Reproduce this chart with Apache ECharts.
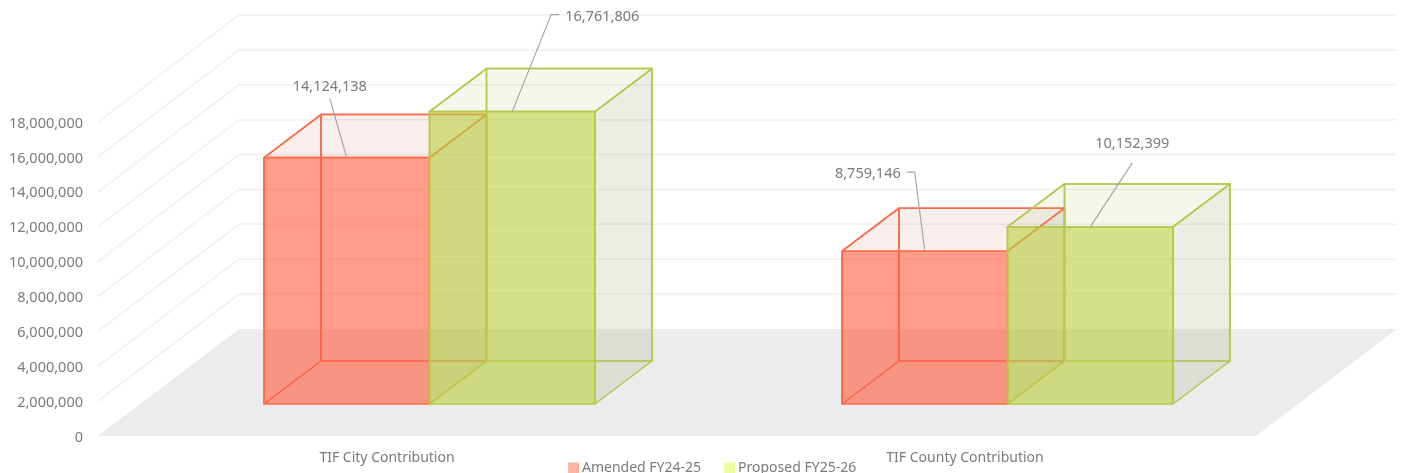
<!DOCTYPE html>
<html><head><meta charset="utf-8">
<style>html,body{margin:0;padding:0;background:#fff;overflow:hidden}#c{width:1402px;height:473px;filter:blur(0.4px)}</style>
<script src="https://cdn.jsdelivr.net/npm/echarts@6/dist/echarts.min.js"></script>
</head><body><div id="c"></div>
<script>
const categories = ['TIF City Contribution', 'TIF County Contribution'];
const seriesNames = ['Amended FY24-25', 'Proposed FY25-26'];
const amended = [14124138, 8759146];
const proposed = [16761806, 10152399];
const yTicks = [0, 2000000, 4000000, 6000000, 8000000, 10000000, 12000000, 14000000, 16000000, 18000000];

const FONT = '"Noto Sans"';
const TXT = '#7a7a7a';
// projection of the pseudo-3D scene, in pixels
const FLOOR_DX = 141, FLOOR_DY = 107, FLOOR_RIGHT_EXTRA = 2;
const BOX_DX = 57, BOX_DY = 43, BOX_W = 165.5;
const INSET_DX = 42.5, INSET_DY = 32;

const LEADERS = {
  '0-0': {pts: [[0, 0], [-17, -59]], text: [-17, -70.5], align: 'center'},
  '1-0': {pts: [[0, 0], [39, -97], [47, -97]], text: [53, -95], align: 'left'},
  '0-1': {pts: [[0, 0], [-10, -79], [-18, -79]], text: [-24, -77], align: 'right'},
  '1-1': {pts: [[0, 0], [42, -64]], text: [42, -83], align: 'center'}
};

function wallItem(params, api) {
  const v = api.value(1);
  const band = api.size([1, 0])[0];
  const y = api.coord([0, v])[1];
  const xl = api.coord([0, v])[0] - band / 2;
  const xr = api.coord([1, v])[0] + band / 2 + FLOOR_RIGHT_EXTRA;
  if (v === 0) {
    return {type: 'polygon', shape: {points: [[xl, y], [xr, y], [xr + FLOOR_DX, y - FLOOR_DY], [xl + FLOOR_DX, y - FLOOR_DY]]},
      style: {fill: '#ececec'}, silent: true};
  }
  const line = {stroke: '#f0f0f0', lineWidth: 1.5, fill: 'none'};
  return {type: 'group', silent: true, children: [
    {type: 'polyline', shape: {points: [[xl, y], [xl + FLOOR_DX, y - FLOOR_DY], [xr + FLOOR_DX, y - FLOOR_DY]]}, style: line}
  ]};
}

function boxItem(sIdx, stroke, frontFill, topFill, sideFill) {
  return function (params, api) {
    const cat = api.value(0), val = api.value(1);
    const top = api.coord([cat, val]), base = api.coord([cat, 0]);
    const x0 = top[0] + INSET_DX + (sIdx - 1) * BOX_W, x1 = x0 + BOX_W;
    const yt = top[1] - INSET_DY, yb = base[1] - INSET_DY;
    const e = {stroke: stroke, lineWidth: 1.5, lineJoin: 'round'};
    const poly = (pts, fill) => ({type: 'polygon', shape: {points: pts}, style: Object.assign({fill: fill}, e)});
    const kids = [
      poly([[x0 + BOX_DX, yb - BOX_DY], [x1 + BOX_DX, yb - BOX_DY], [x1 + BOX_DX, yt - BOX_DY], [x0 + BOX_DX, yt - BOX_DY]], 'rgba(0,0,0,0)'),
      poly([[x0, yb], [x0 + BOX_DX, yb - BOX_DY], [x0 + BOX_DX, yt - BOX_DY], [x0, yt]], 'rgba(0,0,0,0)'),
      poly([[x1, yb], [x1 + BOX_DX, yb - BOX_DY], [x1 + BOX_DX, yt - BOX_DY], [x1, yt]], sideFill),
      poly([[x0, yt], [x1, yt], [x1 + BOX_DX, yt - BOX_DY], [x0 + BOX_DX, yt - BOX_DY]], topFill),
      poly([[x0, yb], [x1, yb], [x1, yt], [x0, yt]], frontFill)
    ];
    const L = LEADERS[sIdx + '-' + cat];
    const ax = (x0 + x1) / 2, ay = yt;
    kids.push({type: 'polyline', shape: {points: L.pts.map(p => [ax + p[0], ay + p[1]])},
      style: {stroke: '#a6a6a6', lineWidth: 1.2, fill: 'none'}});
    kids.push({type: 'text', x: ax + L.text[0], y: ay + L.text[1],
      style: {text: val.toLocaleString('en-US'), fill: TXT, font: '14.5px ' + FONT, align: L.align, verticalAlign: 'middle'}});
    return {type: 'group', silent: true, children: kids};
  };
}

const chart = echarts.init(document.getElementById('c'), null, {renderer: 'canvas'});
chart.setOption({
  animation: false,
  backgroundColor: '#fff',
  textStyle: {fontFamily: FONT},
  grid: {left: 98, right: 148, top: 122, bottom: 37},
  legend: {
    left: 568, top: 461, itemWidth: 11, itemHeight: 11, itemGap: 23, padding: 0,
    textStyle: {color: TXT, fontSize: 14, fontFamily: FONT, padding: [0, 0, 0, -2]},
    data: [
      {name: seriesNames[0], icon: 'rect', itemStyle: {color: '#ffb5a1', borderWidth: 0}},
      {name: seriesNames[1], icon: 'rect', itemStyle: {color: '#eefb9c', borderWidth: 0}}
    ]
  },
  xAxis: {type: 'category', data: categories, axisLine: {show: false}, axisTick: {show: false},
    splitLine: {show: false},
    axisLabel: {color: TXT, fontSize: 14, fontFamily: FONT, margin: 15}},
  yAxis: {type: 'value', min: 0, max: 18000000, interval: 2000000, axisLine: {show: false}, axisTick: {show: false},
    splitLine: {show: false},
    axisLabel: {margin: 15,
      formatter: v => '{t|' + v.toLocaleString('en-US') + '}',
      rich: {t: {color: TXT, fontSize: 14.5, fontFamily: FONT, padding: [3, 0, 0, 0]}}}},
  series: [
    {type: 'custom', silent: true, renderItem: wallItem, data: yTicks.map(v => [0, v]), z: 1,
      encode: {x: 0, y: 1}},
    {type: 'custom', name: seriesNames[0], silent: true, z: 2, encode: {x: 0, y: 1},
      renderItem: boxItem(0, '#ff6a4a', 'rgba(255,90,60,0.6)', 'rgba(190,100,80,0.1)', 'rgba(150,120,110,0.17)'),
      data: amended.map((v, i) => [i, v])},
    {type: 'custom', name: seriesNames[1], silent: true, z: 3, encode: {x: 0, y: 1},
      renderItem: boxItem(1, '#b2c94a', 'rgba(185,206,60,0.6)', 'rgba(170,190,110,0.12)', 'rgba(140,150,90,0.17)'),
      data: proposed.map((v, i) => [i, v])}
  ]
});
</script></body></html>
